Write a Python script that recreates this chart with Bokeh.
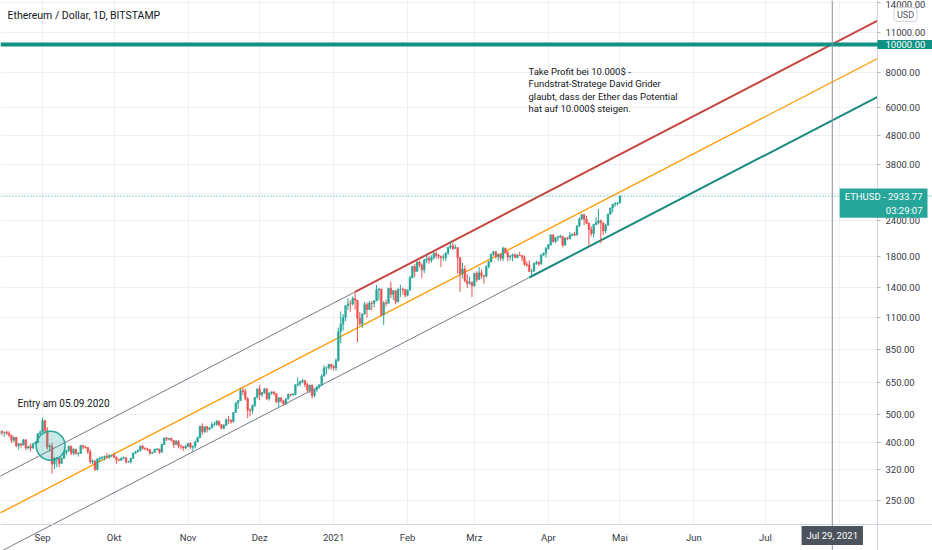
import numpy as np
import pandas as pd
from bokeh.plotting import figure
from bokeh.models import (ColumnDataSource, Range1d, FixedTicker, NumeralTickFormatter, Span, Label,
                          BoxAnnotation)
from bokeh.embed import file_html
from bokeh.resources import INLINE

# ---------------- data ----------------
first_day = "2020-08-14"
first_open = 428

close_aug = [437, 433, 434, 430, 423, 406, 416, 389, 395, 391, 408, 382, 386, 382, 395, 399, 428, 434]
high_aug = [443, 440, 436, 439, 437, 424, 418, 418, 397, 396, 410, 409, 389, 396, 397, 403, 430, 440]
low_aug = [419, 423, 418, 424, 416, 397, 400, 384, 377, 383, 389, 375, 378, 371, 379, 394, 397, 424]

close_sep = [477, 440, 385, 388, 335, 352, 353, 337, 351, 368, 374, 387, 366, 377, 364, 365, 389, 385, 383, 370,
             341, 343, 321, 349, 352, 354, 357, 354, 360, 360]
high_sep = [488, 478, 452, 394, 398, 354, 355, 356, 354, 373, 376, 389, 389, 381, 380, 369, 392, 392, 388, 385,
            378, 348, 347, 351, 356, 357, 359, 366, 362, 361]
low_sep = [432, 430, 377, 371, 310, 322, 327, 327, 335, 349, 360, 370, 360, 361, 363, 356, 364, 378, 380, 364,
           336, 335, 317, 318, 340, 347, 345, 351, 350, 354]

close_oct = [354, 347, 346, 352, 353, 341, 341, 351, 366, 370, 375, 387, 381, 379, 377, 366, 368, 378, 379, 369,
             393, 414, 410, 412, 406, 393, 403, 388, 386, 382, 386]
high_oct = [368, 356, 350, 353, 356, 355, 344, 353, 368, 373, 377, 390, 392, 384, 382, 379, 370, 379, 382, 379,
            395, 416, 417, 414, 416, 407, 407, 408, 393, 388, 392]
low_oct = [352, 336, 343, 344, 348, 337, 338, 337, 350, 364, 369, 371, 377, 374, 372, 361, 364, 367, 374, 364,
           367, 390, 404, 406, 402, 382, 391, 381, 378, 373, 378]

close_nov = [396, 384, 387, 401, 415, 455, 435, 453, 444, 449, 462, 462, 475, 461, 448, 459, 480, 479, 472, 509,
             549, 560, 608, 603, 569, 518, 517, 538, 575, 616]
high_nov = [398, 400, 389, 405, 418, 457, 466, 455, 457, 452, 470, 471, 478, 476, 462, 463, 484, 495, 480, 511,
            553, 563, 617, 621, 616, 576, 527, 543, 576, 617]
low_nov = [386, 379, 372, 380, 400, 414, 425, 431, 433, 440, 448, 454, 457, 454, 444, 444, 456, 464, 464, 470,
           507, 523, 560, 586, 561, 486, 493, 504, 533, 570]

close_dec = [587, 598, 616, 569, 596, 601, 592, 554, 573, 559, 545, 568, 590, 586, 589, 636, 642, 654, 659, 638,
             609, 634, 583, 611, 626, 635, 683, 730, 731, 751, 737]
high_dec = [636, 600, 621, 619, 598, 603, 604, 594, 577, 575, 561, 569, 592, 592, 596, 640, 676, 657, 667, 660,
            647, 637, 638, 614, 628, 640, 693, 745, 738, 754, 754]
low_dec = [562, 576, 591, 563, 560, 587, 584, 549, 532, 550, 537, 542, 565, 578, 581, 585, 628, 628, 646, 625,
           598, 595, 570, 575, 602, 617, 631, 681, 693, 720, 720]

close_jan = [730, 775, 979, 1041, 1100, 1208, 1225, 1224, 1281, 1262, 1090, 1043, 1130, 1218, 1171, 1233, 1230,
             1257, 1377, 1382, 1121, 1236, 1231, 1392, 1324, 1362, 1247, 1379, 1382, 1376, 1314]
high_jan = [748, 787, 1011, 1153, 1129, 1209, 1282, 1261, 1300, 1348, 1266, 1147, 1133, 1245, 1240, 1253, 1255,
            1261, 1427, 1393, 1385, 1254, 1272, 1395, 1467, 1372, 1367, 1389, 1430, 1397, 1381]
low_jan = [714, 714, 768, 891, 987, 1064, 1165, 1150, 1208, 1171, 900, 1028, 1007, 1124, 1095, 1168, 1160,
           1190, 1252, 1260, 1107, 1033, 1200, 1228, 1285, 1264, 1220, 1239, 1296, 1320, 1290]

close_feb = [1370, 1515, 1660, 1594, 1719, 1677, 1615, 1750, 1769, 1744, 1783, 1843, 1814, 1804, 1779, 1781,
             1849, 1937, 1960, 1919, 1935, 1781, 1570, 1626, 1476, 1446, 1459, 1417]
high_feb = [1377, 1540, 1664, 1692, 1732, 1740, 1699, 1766, 1823, 1806, 1816, 1871, 1872, 1835, 1810, 1829,
            1860, 1950, 2040, 2010, 1983, 1940, 1786, 1711, 1670, 1559, 1527, 1469]
low_feb = [1302, 1364, 1506, 1521, 1593, 1646, 1512, 1571, 1706, 1695, 1710, 1754, 1770, 1766, 1651, 1737,
           1735, 1821, 1913, 1895, 1912, 1565, 1350, 1508, 1460, 1394, 1434, 1294]

close_mar = [1570, 1493, 1576, 1542, 1534, 1655, 1723, 1834, 1869, 1796, 1826, 1772, 1924, 1854, 1791, 1806,
             1823, 1782, 1817, 1812, 1786, 1688, 1678, 1593, 1595, 1702, 1717, 1691, 1819, 1846, 1918]
high_mar = [1574, 1596, 1651, 1621, 1547, 1674, 1733, 1840, 1877, 1872, 1841, 1836, 1947, 1932, 1880, 1817,
            1840, 1845, 1840, 1869, 1822, 1813, 1726, 1742, 1627, 1708, 1738, 1730, 1836, 1856, 1943]
low_mar = [1410, 1461, 1490, 1506, 1443, 1519, 1635, 1711, 1808, 1771, 1736, 1740, 1731, 1835, 1730, 1742,
           1730, 1776, 1772, 1808, 1733, 1668, 1653, 1585, 1547, 1595, 1682, 1668, 1687, 1808, 1783]

close_apr = [1977, 2143, 2028, 2093, 2107, 2118, 1972, 2090, 2077, 2135, 2157, 2139, 2299, 2435, 2519, 2432,
             2355, 2237, 2166, 2330, 2364, 2403, 2364, 2211, 2317, 2535, 2662, 2746, 2757, 2773]
high_apr = [1990, 2145, 2145, 2100, 2128, 2146, 2125, 2096, 2101, 2191, 2161, 2196, 2317, 2467, 2544, 2548,
            2497, 2370, 2293, 2341, 2471, 2641, 2424, 2368, 2338, 2546, 2675, 2756, 2799, 2797]
low_apr = [1900, 1960, 2015, 2007, 2036, 2081, 1940, 1961, 2052, 2066, 2115, 2119, 2134, 2290, 2416, 2318,
           2336, 1957, 2117, 2102, 2315, 2330, 2001, 2140, 2170, 2305, 2520, 2564, 2690, 2720]

close_may = [2933.77]
high_may = [2945]
low_may = [2768]

closes = close_aug + close_sep + close_oct + close_nov + close_dec + close_jan + close_feb + close_mar + close_apr + close_may
highs = high_aug + high_sep + high_oct + high_nov + high_dec + high_jan + high_feb + high_mar + high_apr + high_may
lows = low_aug + low_sep + low_oct + low_nov + low_dec + low_jan + low_feb + low_mar + low_apr + low_may
assert len(closes) == len(highs) == len(lows) == 261

# drawn trend channel (anchor points of the drawing)
upper_dates = ["2020-08-14", "2021-01-10", "2021-08-17"]
upper_prices = [303, 1350, 12140]
mid_dates = ["2020-08-14", "2021-08-17"]
mid_prices = [225, 8930]
lower_dates = ["2020-08-14", "2021-03-24", "2021-08-17"]
lower_prices = [164.5, 1517, 6550]

target_price = 10000
marker_date = "2021-07-29"
entry_date = ["2020-09-04 10:00"]
entry_price = [389]

month_ticks = ["2020-09-01", "2020-10-01", "2020-11-01", "2020-12-01", "2021-01-01", "2021-02-01",
               "2021-03-01", "2021-04-01", "2021-05-01", "2021-06-01", "2021-07-01", "2021-08-01"]
month_labels = ["Sep", "Okt", "Nov", "Dez", "2021", "Feb", "Mrz", "Apr", "Mai", "Jun", "Jul", "Aug"]
price_ticks = [250, 320, 400, 500, 650, 850, 1100, 1400, 1800, 2400, 3000, 3800, 4800, 6000, 8000, 11000, 14000]

# ---------------- geometry helpers (reference pixel -> data) ----------------
BASE = pd.Timestamp("2020-09-01")
PX_PER_DAY = 2.386
W, H = 932, 550
SCALE_X, TIME_Y = 877, 524   # price-scale and time-scale borders


def ms(d):
    return pd.Timestamp(d).value / 1e6


def x_at(px):
    return (BASE + pd.Timedelta(days=(px - 42) / PX_PER_DAY)).value / 1e6


def y_at(py):
    return 10 ** (4 - (py - 44) / 284.5)


UP = "#26a69a"
DOWN = "#ef5350"
FONT = "Roboto"

dates = pd.date_range(first_day, periods=len(closes), freq="D")
opens = [first_open] + closes[:-1]
df = pd.DataFrame(dict(date=dates, open=opens, high=highs, low=lows, close=closes))
df["top"] = df[["open", "close"]].max(axis=1)
df["bottom"] = df[["open", "close"]].min(axis=1)
inc = ColumnDataSource(df[df.close >= df.open])
dec = ColumnDataSource(df[df.close < df.open])

p = figure(frame_width=W, frame_height=H, x_axis_type="datetime", y_axis_type="log",
           y_axis_location="right", x_range=Range1d(x_at(0), x_at(W)),
           y_range=Range1d(y_at(H), y_at(0)), output_backend="svg", toolbar_location=None,
           min_border=0, min_border_left=0, min_border_right=0, min_border_top=0, min_border_bottom=0)
p.outline_line_color = None
p.background_fill_color = "white"
p.border_fill_color = "white"

# axes, pinned at the chart's scale borders
p.yaxis.fixed_location = x_at(SCALE_X)
p.xaxis.fixed_location = y_at(TIME_Y)
p.yaxis.ticker = FixedTicker(ticks=price_ticks)
p.yaxis.formatter = NumeralTickFormatter(format="0.00")
p.xaxis.ticker = FixedTicker(ticks=[ms(d) for d in month_ticks])
p.xaxis.major_label_overrides = {ms(d): lab for d, lab in zip(month_ticks, month_labels)}
for ax in (p.xaxis, p.yaxis):
    ax.axis_line_color = "#d1d4dc"
    ax.major_label_text_font = FONT
    ax.major_label_text_font_size = "9.5px"
    ax.major_label_text_color = "#363a45"
    ax.minor_tick_line_color = None
    ax.major_tick_in = 0
p.yaxis.major_tick_out = 3
p.yaxis.major_tick_line_color = "#b2b5be"
p.yaxis.major_label_standoff = 5
p.xaxis.major_tick_out = 0
p.xaxis.major_tick_line_color = None
p.xaxis.major_label_standoff = 7
p.xgrid.ticker = FixedTicker(ticks=[ms(d) for d in month_ticks])
p.ygrid.ticker = FixedTicker(ticks=price_ticks)
p.xgrid.grid_line_color = "#eef0f4"
p.ygrid.grid_line_color = "#eef0f4"

# keep the scale areas clean of grid lines
p.add_layout(BoxAnnotation(left=x_at(SCALE_X), fill_color="white", fill_alpha=1, line_color=None, level="underlay"))
p.add_layout(BoxAnnotation(top=y_at(TIME_Y), fill_color="white", fill_alpha=1, line_color=None, level="underlay"))

# channel lines
ud = [ms(d) for d in upper_dates]
p.line(ud[:2], upper_prices[:2], line_color="#787b86", line_width=1)
p.line(ud[1:], upper_prices[1:], line_color="#c4463e", line_width=2)
p.line([ms(d) for d in mid_dates], mid_prices, line_color="#ff9800", line_width=1.3)
ld = [ms(d) for d in lower_dates]
p.line(ld[:2], lower_prices[:2], line_color="#787b86", line_width=1)
p.line(ld[1:], lower_prices[1:], line_color="#1a8a7d", line_width=2)

# candles
w = 0.72 * 86400000
p.segment("date", "low", "date", "high", source=inc, line_color=UP, line_width=1)
p.segment("date", "low", "date", "high", source=dec, line_color=DOWN, line_width=1)
p.vbar(x="date", width=w, top="top", bottom="bottom", source=inc, fill_color=UP, line_color=UP, line_width=0.5)
p.vbar(x="date", width=w, top="top", bottom="bottom", source=dec, fill_color=DOWN, line_color=DOWN, line_width=0.5)

# entry circle
p.scatter(x=[ms(d) for d in entry_date], y=entry_price, marker="circle", size=29,
          fill_color=UP, fill_alpha=0.25, line_color=UP, line_width=1.5)

# reference lines
p.add_layout(Span(location=target_price, dimension="width", line_color="#0f9284", line_width=4))
p.add_layout(Span(location=closes[-1], dimension="width", line_color=UP, line_width=1, line_dash="1 2"))
p.add_layout(Span(location=ms(marker_date), dimension="height", line_color="#8a8d96", line_width=1))

# texts
p.add_layout(Label(x=x_at(7), y=y_at(15), text="Ethereum / Dollar, 1D, BITSTAMP", text_font=FONT,
                   text_font_size="10.5px", text_color="#131722", text_align="left", text_baseline="middle"))
p.add_layout(Label(x=x_at(17), y=y_at(403), text="Entry am 05.09.2020", text_font=FONT,
                   text_font_size="10px", text_color="#131722", text_align="left", text_baseline="middle"))
p.add_layout(Label(x=x_at(528), y=y_at(65),
                   text="Take Profit bei 10.000$ -\nFundstrat-Stratege David Grider\n"
                        "glaubt, dass der Ether das Potential\nhat auf 10.000$ steigen.",
                   text_font=FONT, text_font_size="9.5px", text_color="#131722", text_align="left",
                   text_baseline="top", text_line_height=1.15))
p.add_layout(Label(x=x_at(905), y=y_at(14), text="USD", text_font=FONT, text_font_size="9px",
                   text_color="#50535e", text_align="center", text_baseline="middle",
                   background_fill_color="white", border_line_color="#d1d4dc", padding=(3, 2), border_radius=3))
p.add_layout(Label(x=x_at(877), y=target_price, text=f"{target_price:.2f}", text_font=FONT,
                   text_font_size="9.5px", text_color="white", text_align="left", text_baseline="middle",
                   background_fill_color="#0f9284", padding=(8, 1)))
p.add_layout(Label(x=x_at(927), y=y_at(188), text=f"ETHUSD - {closes[-1]:.2f}\n03:29:07", text_font=FONT,
                   text_font_size="9.5px", text_color="white", text_align="right", text_baseline="top",
                   background_fill_color=UP, padding=(5, 2), text_line_height=1.3))
p.add_layout(Label(x=ms(marker_date), y=y_at(535), text="Jul 29, 2021", text_font=FONT,
                   text_font_size="9.5px", text_color="white", text_align="center", text_baseline="middle",
                   background_fill_color="#4c525e", padding=(5, 4)))

open("out.html", "w").write(file_html(p, INLINE))
